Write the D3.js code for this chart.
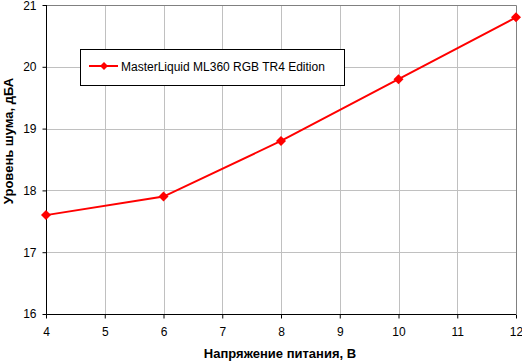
<!DOCTYPE html>
<html><head><meta charset="utf-8">
<script src="https://cdn.jsdelivr.net/npm/d3@7"></script>
<style>body{margin:0;background:#fff;}svg{display:block;font-family:"Liberation Sans",Arial,sans-serif;}</style>
</head><body><svg id="c" width="522" height="361"></svg>
<script>
const voltages = [4, 6, 8, 10, 12];
const noise = [17.6, 17.9, 18.8, 19.8, 20.8];
const seriesName = "MasterLiquid ML360 RGB TR4 Edition";
const xTicks = [4, 5, 6, 7, 8, 9, 10, 11, 12];
const yTicks = [16, 17, 18, 19, 20, 21];
const xTitle = "Напряжение питания, В";
const yTitle = "Уровень шума, дБА";

const svg = d3.select("#c");
const L = 46, R = 516, T = 5, B = 314;
const x = d3.scaleLinear().domain([4, 12]).range([L, R]);
const y = d3.scaleLinear().domain([16, 21]).range([B, T]);

// grid
svg.append("g").selectAll("line").data(xTicks.slice(1, -1)).join("line")
  .attr("x1", d => Math.round(x(d)) + 0.5).attr("x2", d => Math.round(x(d)) + 0.5)
  .attr("y1", T).attr("y2", B).attr("stroke", "#c0c0c0").attr("stroke-width", 1);
svg.append("g").selectAll("line").data(yTicks.slice(1, -1)).join("line")
  .attr("y1", d => Math.round(y(d)) + 0.5).attr("y2", d => Math.round(y(d)) + 0.5)
  .attr("x1", L).attr("x2", R).attr("stroke", "#c0c0c0").attr("stroke-width", 1);
svg.append("path").attr("d", `M${L},${T + 0.5}H${R + 0.5}V${B}`).attr("fill", "none").attr("stroke", "#808080");

// axes
const xAxis = svg.append("g").attr("transform", `translate(0,${B + 0.5})`)
  .call(d3.axisBottom(x).tickValues(xTicks).tickSize(4).tickPadding(9).tickFormat(d3.format("d")));
const yAxis = svg.append("g").attr("transform", `translate(${L + 0.5},0)`)
  .call(d3.axisLeft(y).tickValues(yTicks).tickSize(4).tickPadding(6).tickFormat(d3.format("d")));
[xAxis, yAxis].forEach(a => {
  a.select(".domain").remove();
  a.selectAll("line").attr("stroke", "#000");
  a.selectAll("text").attr("font-size", 12).attr("fill", "#000").attr("font-family", "Liberation Sans, Arial, sans-serif");
});
yAxis.selectAll(".tick").filter(d => d === 21).select("text").attr("dy", "0.4em");
svg.append("path").attr("d", `M${L + 0.5},${T}V${B + 0.5}H${R}`).attr("fill", "none").attr("stroke", "#000");

// line
const data = voltages.map((v, i) => [v, noise[i]]);
svg.append("path").datum(data)
  .attr("d", d3.line().x(d => x(d[0])).y(d => y(d[1])))
  .attr("fill", "none").attr("stroke", "#ff0000").attr("stroke-width", 2);
const diamond = "M0,-5L5,0L0,5L-5,0Z";
svg.append("g").selectAll("path").data(data).join("path")
  .attr("transform", d => `translate(${x(d[0])},${y(d[1])})`)
  .attr("d", diamond).attr("fill", "#ff0000");

// legend
const lg = svg.append("g");
lg.append("rect").attr("x", 80.5).attr("y", 49.5).attr("width", 264).attr("height", 36)
  .attr("fill", "#fff").attr("stroke", "#000");
lg.append("line").attr("x1", 89).attr("x2", 118).attr("y1", 66).attr("y2", 66)
  .attr("stroke", "#ff0000").attr("stroke-width", 2);
lg.append("path").attr("transform", "translate(104,66)").attr("d", "M0,-4L4,0L0,4L-4,0Z").attr("fill", "#ff0000");
lg.append("text").attr("x", 121).attr("y", 70.5).attr("font-size", 12).text(seriesName);

// titles
svg.append("text").attr("x", 280).attr("y", 358).attr("text-anchor", "middle")
  .attr("font-size", 13).attr("font-weight", "bold").text(xTitle);
svg.append("text").attr("transform", `translate(13,141) rotate(-90)`).attr("text-anchor", "middle")
  .attr("font-size", 13).attr("font-weight", "bold").text(yTitle);
</script></body></html>
